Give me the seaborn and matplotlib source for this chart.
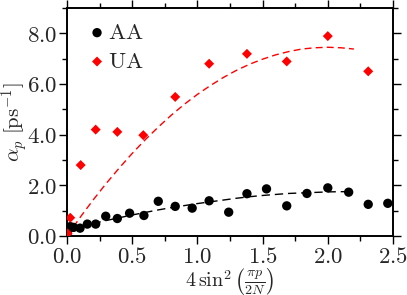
import numpy as np
import pandas as pd
import seaborn as sns
import matplotlib
matplotlib.use("Agg")
import matplotlib.pyplot as plt
from matplotlib.ticker import MultipleLocator, FuncFormatter

# AA data points
aa_x = [0.0, 0.01, 0.025, 0.05, 0.10, 0.156, 0.22, 0.297, 0.386, 0.48, 0.59,
        0.70, 0.83, 0.96, 1.09, 1.24, 1.38, 1.53, 1.685, 1.84, 2.0, 2.16,
        2.31, 2.46]
aa_y = [0.07, 0.26, 0.37, 0.34, 0.31, 0.47, 0.47, 0.78, 0.69, 0.90, 0.81,
        1.37, 1.17, 1.10, 1.39, 0.94, 1.67, 1.86, 1.19, 1.68, 1.90, 1.73,
        1.25, 1.29]

# UA data points
ua_x = [0.005, 0.025, 0.105, 0.22, 0.386, 0.585, 0.83, 1.09, 1.38, 1.685,
        2.0, 2.31]
ua_y = [0.10, 0.72, 2.80, 4.20, 4.11, 3.98, 5.49, 6.80, 7.19, 6.89, 7.89,
        6.50]

# dashed fit curves
fit_x = [0.0, 0.1, 0.2, 0.3, 0.4, 0.5, 0.6, 0.7, 0.8, 0.9, 1.0, 1.1, 1.2,
         1.3, 1.4, 1.5, 1.6, 1.7, 1.8, 1.9, 2.0, 2.1, 2.2]
aa_fit = [0.23, 0.36, 0.49, 0.61, 0.72, 0.83, 0.93, 1.03, 1.12, 1.20, 1.28,
          1.35, 1.42, 1.49, 1.55, 1.60, 1.64, 1.68, 1.70, 1.72, 1.74, 1.75,
          1.75]
ua_fit = [0.0, 0.73, 1.42, 2.07, 2.68, 3.26, 3.80, 4.30, 4.77, 5.20, 5.59,
          5.94, 6.26, 6.54, 6.78, 6.98, 7.15, 7.28, 7.38, 7.43, 7.45, 7.43,
          7.38]

sns.set_style("ticks")
plt.rcParams["mathtext.fontset"] = "cm"
plt.rcParams["font.family"] = ["DejaVu Serif"]

fig = plt.figure(figsize=(4.07, 2.95), dpi=100)
ax = fig.add_axes([0.1646, 0.2, 0.801, 0.7729])

sns.lineplot(x=fit_x, y=ua_fit, ax=ax, color="#ff0000", lw=1.0,
             dashes=False, linestyle=(0, (5, 3)), legend=False)
sns.lineplot(x=fit_x, y=aa_fit, ax=ax, color="black", lw=1.0,
             dashes=False, linestyle=(0, (6, 3.5)), legend=False)
sns.scatterplot(x=aa_x, y=aa_y, ax=ax, color="black", marker="o", s=45,
                edgecolor="none", label=r"$\mathrm{AA}$", zorder=3)
sns.scatterplot(x=ua_x, y=ua_y, ax=ax, color="#ff0000", marker="D", s=26,
                edgecolor="none", label=r"$\mathrm{UA}$", zorder=3)

ax.set_xlim(0, 2.5)
ax.set_ylim(0, 9.0)
ax.xaxis.set_major_locator(MultipleLocator(0.5))
ax.xaxis.set_minor_locator(MultipleLocator(0.25))
ax.yaxis.set_major_locator(MultipleLocator(2.0))
ax.yaxis.set_minor_locator(MultipleLocator(1.0))
fmt = FuncFormatter(lambda v, p: "$%.1f$" % v)
ax.xaxis.set_major_formatter(fmt)
ax.yaxis.set_major_formatter(fmt)
ax.tick_params(which="both", direction="out", top=True, right=True,
               labelsize=16.5, width=1.0, color="black")
ax.tick_params(which="major", length=6)
ax.tick_params(which="minor", length=3.5)
ax.tick_params(axis="y", which="major", pad=1)
ax.tick_params(axis="x", which="major", pad=1)
for s in ax.spines.values():
    s.set_linewidth(1.4)
    s.set_color("black")

ax.set_xlabel(r"$4\,\sin^2\left(\frac{\pi p}{2N}\right)$", fontsize=14.5)
ax.xaxis.set_label_coords(0.5, -0.13)
ax.set_ylabel(r"$\alpha_p\ [\mathrm{ps}^{-1}]$", fontsize=15)
ax.yaxis.set_label_coords(-0.112, 0.5)

leg = ax.legend(loc="upper left", bbox_to_anchor=(0.064, 0.94),
                frameon=False, fontsize=16.5, handlelength=0.8,
                handletextpad=0.1, labelspacing=0.3, borderaxespad=0,
                borderpad=0)

plt.savefig("out.png", dpi=100)
